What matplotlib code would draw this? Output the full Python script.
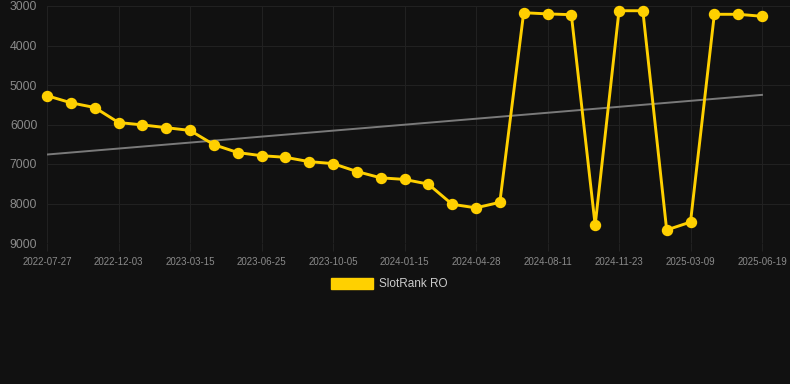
import matplotlib

matplotlib.use("Agg")
import matplotlib.pyplot as plt
from matplotlib.patches import Patch

# monthly SlotRank RO positions
ranks = [
    5270, 5450, 5570, 5950, 6010, 6080, 6150, 6510, 6710, 6790,
    6830, 6940, 6990, 7190, 7350, 7390, 7510, 8020, 8110, 7970,
    3170, 3200, 3220, 8550, 3120, 3120, 8670, 8470, 3210, 3210,
    3260,
]
tick_labels = [
    "2022-07-27", "2022-12-03", "2023-03-15", "2023-06-25", "2023-10-05",
    "2024-01-15", "2024-04-28", "2024-08-11", "2024-11-23", "2025-03-09",
    "2025-06-19",
]
# trend line end points (first and last sample)
trend_ends = [6760, 5250]

BG = "#111111"
GOLD = "#FFD000"

plt.rcParams["font.family"] = ["Liberation Sans", "DejaVu Sans"]

fig = plt.figure(figsize=(7.9, 3.84), dpi=100, facecolor=BG)
ax = fig.add_axes([47 / 790, 1 - 243 / 384, 1 - 47 / 790, (243 - 6) / 384])
ax.set_facecolor(BG)

xs = list(range(len(ranks)))
ax.plot([xs[0], xs[-1]], trend_ends, color="#7a7a7a", linewidth=1.4, zorder=2)
ax.plot(xs, ranks, color=GOLD, linewidth=2.1, marker="o", markersize=7.2,
        zorder=3, clip_on=False)

ax.set_xlim(0, (790 - 47) / ((762 - 47) / 30))
ax.set_ylim(9000, 3000)
ax.set_yticks([3000, 4000, 5000, 6000, 7000, 8000, 9000])
ax.set_xticks(xs[::3])
ax.set_xticklabels(tick_labels)

ax.grid(True, color="#212121", linewidth=0.8)
ax.set_axisbelow(True)
for spine in ax.spines.values():
    spine.set_visible(False)
ax.tick_params(axis="y", length=0, pad=7, labelsize=8.8, labelcolor="#8a8a8a")
ax.tick_params(axis="x", length=6, color="#212121", pad=4, labelsize=7,
               labelcolor="#8a8a8a")

fig.legend(handles=[Patch(facecolor=GOLD, edgecolor=GOLD, label="SlotRank RO")],
           loc="center", bbox_to_anchor=(389 / 790, 1 - 284 / 384), frameon=False,
           handlelength=3.6, handleheight=1.1, handletextpad=0.5,
           fontsize=8.5, labelcolor="#cccccc")

fig.savefig("out.png", dpi=100, facecolor=BG)
